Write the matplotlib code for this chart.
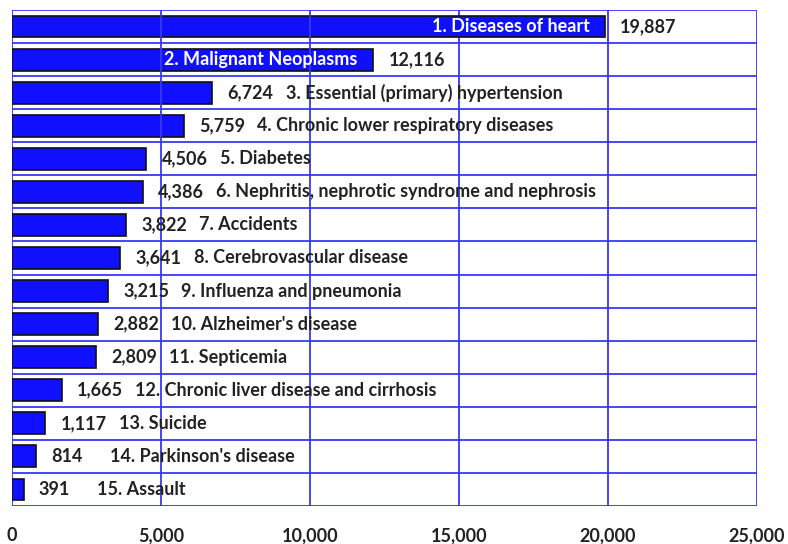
import matplotlib.pyplot as plt
import numpy as np

causes = ["1. Diseases of heart", "2. Malignant Neoplasms",
          "3. Essential (primary) hypertension",
          "4. Chronic lower respiratory diseases", "5. Diabetes",
          "6. Nephritis, nephrotic syndrome and nephrosis", "7. Accidents",
          "8. Cerebrovascular disease", "9. Influenza and pneumonia",
          "10. Alzheimer's disease", "11. Septicemia",
          "12. Chronic liver disease and cirrhosis", "13. Suicide",
          "14. Parkinson's disease", "15. Assault"]
deaths = [19887, 12116, 6724, 5759, 4506, 4386, 3822, 3641, 3215, 2882,
          2809, 1665, 1117, 814, 391]
xticks = [0, 5000, 10000, 15000, 20000, 25000]

plt.rcParams['font.family'] = ['Lato', 'DejaVu Sans']
plt.rcParams['font.weight'] = 'bold'

fig = plt.figure(figsize=(7.88, 5.44), dpi=100)
ax = fig.add_axes([0.0152, 0.0699, 0.9455, 0.9117])

n = len(deaths)
y = np.arange(n)
grid_c = '#3838F5'
txt_c = '#222222'

ax.barh(y, deaths, height=0.66, color='#1010FF', edgecolor='#111111',
        linewidth=1.2, zorder=2)

# row separators and vertical grid
for b in np.arange(n + 1) - 0.5:
    ax.axhline(b, color=grid_c, lw=1.3, zorder=1)
for t in xticks:
    ax.axvline(t, color=grid_c, lw=1.3, zorder=3 if t in (5000, 10000) else 1)

ax.set_xlim(0, 25000)
ax.set_ylim(n - 0.5, -0.5)
for s in ax.spines.values():
    s.set_visible(False)
ax.set_yticks([])
ax.set_xticks(xticks)
ax.set_xticklabels([f"{t:,}" for t in xticks], fontsize=13, fontweight='bold',
                   color=txt_c)
ax.tick_params(axis='x', length=0, pad=15)

for i, (c, v) in enumerate(zip(causes, deaths)):
    ax.annotate(f"{v:,}", (v, i), xytext=(11, 0), textcoords='offset points',
                va='center', ha='left', fontsize=13, fontweight='bold',
                color=txt_c, zorder=4)
    if i < 2:
        ax.annotate(c, (v, i), xytext=(-11, 0), textcoords='offset points',
                    va='center', ha='right', fontsize=13, fontweight='bold',
                    color='white', zorder=4)
    else:
        ax.annotate(c, (v, i), xytext=(53, 0), textcoords='offset points',
                    va='center', ha='left', fontsize=13, fontweight='bold',
                    color=txt_c, zorder=4)

fig.savefig("out.png", dpi=100)
